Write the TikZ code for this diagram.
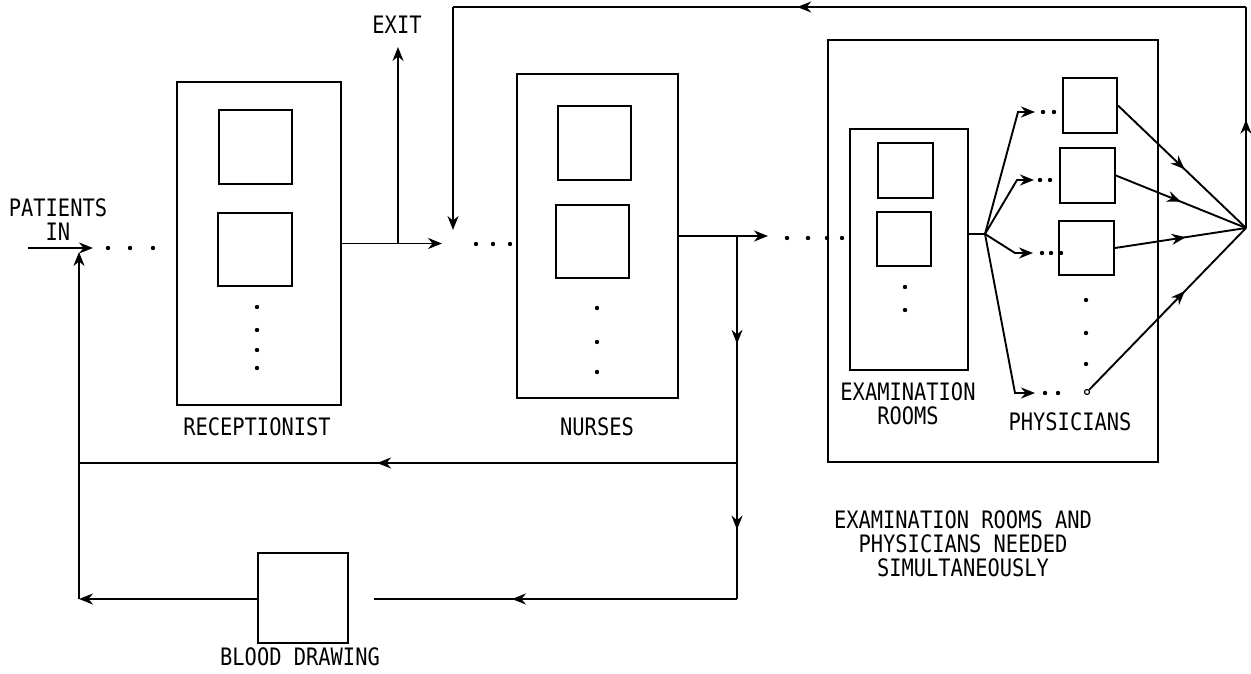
\documentclass[tikz,border=0pt]{standalone}
\usepackage{fontspec}
\newfontfamily\lp[FakeStretch=0.85]{DejaVu Sans Mono}
\usetikzlibrary{arrows.meta,decorations.markings}
\begin{document}
\begin{tikzpicture}[x=1pt,y=-1pt,line width=1.9pt,
  >={Stealth[length=14pt,width=11pt]},
  rbox/.style 2 args={draw,minimum width=#1pt,minimum height=#2pt,inner sep=0pt},
  marr/.style={postaction={decorate,decoration={markings,mark=at position #1 with {\arrow{>}}}}},
  lbl/.style={font=\lp\fontsize{24}{24}\selectfont,inner sep=0pt,align=center}]
\useasboundingbox (0,0) rectangle (1251,674);
% ---------- boxes ----------
\node[rbox={164}{323}] (rec) at (259,243.5) {};
\node[rbox={73}{74}] (rs1) at (255.5,147) {};
\node[rbox={74}{73}] (rs2) at (255,249.5) {};
\node[rbox={161}{324}] (nur) at (597.5,236) {};
\node[rbox={73}{74}] (ns1) at (594.5,143) {};
\node[rbox={73}{73}] (ns2) at (592.5,241.5) {};
\node[rbox={330}{422}] (exb) at (993,251) {};
\node[rbox={118}{241}] (exr) at (909,249.5) {};
\node[rbox={55}{55}] (es1) at (905.5,170.5) {};
\node[rbox={54}{54}] (es2) at (904,239) {};
\node[rbox={54}{55}] (p1) at (1090,105.5) {};
\node[rbox={55}{55}] (p2) at (1087.5,175.5) {};
\node[rbox={55}{54}] (p3) at (1086.5,248) {};
\node[draw,circle,line width=1.2pt,minimum size=5pt,inner sep=0pt] (p4) at (1087,392) {};
\node[rbox={90}{90}] (bld) at (303,598) {};
% ---------- labels ----------
\node[lbl] (tin) at (58,219.5) {PATIENTS\\IN};
\node[lbl] (texit) at (397,25) {EXIT};
\node[lbl] (trec) at (257,427) {RECEPTIONIST};
\node[lbl] (tnur) at (597,427) {NURSES};
\node[lbl] (tbld) at (300,657) {BLOOD DRAWING};
\node[lbl] (texr) at (908,404) {EXAMINATION\\ROOMS};
\node[lbl] (tphy) at (1070,422) {PHYSICIANS};
\node[lbl] (tnote) at (963,544) {EXAMINATION ROOMS AND\\PHYSICIANS NEEDED\\ SIMULTANEOUSLY};
% ---------- coordinates ----------
\coordinate (pin) at (28,248);
\coordinate (pie) at (93,248);
\coordinate (lv) at (79,252);
\coordinate (q1) at (442,243.5);
\coordinate (xj) at (398,243.5);
\coordinate (xt) at (398,47);
\coordinate (q2) at (768,236);
\coordinate (nj) at (737,236);
\coordinate (nm) at (737,463);
\coordinate (nb) at (737,599);
\coordinate (lm) at (79,463);
\coordinate (lb) at (79,599);
\coordinate (bs) at (374,599);
\coordinate (jn) at (985,234);
\coordinate (b1) at (1018,112);
\coordinate (b2) at (1017,180);
\coordinate (b3) at (1015,253);
\coordinate (b4) at (1015,393);
\coordinate (a1) at (1035,112);
\coordinate (a2) at (1034,180);
\coordinate (a3) at (1033,253);
\coordinate (a4) at (1035,393);
\coordinate (cv) at (1246,228);
\coordinate (tr) at (1246,7);
\coordinate (tl) at (453,7);
\coordinate (fb) at (453,230);
% ---------- connectors ----------
\draw[->] (pin) -- (pie);
\draw[->] (lb) -- (lv);
\draw[->] (rec.east) -- (q1);
\draw[->] (xj) -- (xt);
\draw[->] (nur.east) -- (q2);
\draw[marr=0.475] (nj) -- (nm);
\draw[marr=0.49] (nm) -- (nb);
\draw[marr=0.547] (nm) -- (lm);
\draw[marr=0.62] (nb) -- (bs);
\draw[->] (bld.west |- lb) -- (lb);
\draw (exr.east |- jn) -- (jn);
\draw[->] (jn) -- (b1) -- (a1);
\draw[->] (jn) -- (b2) -- (a2);
\draw[->] (jn) -- (b3) -- (a3);
\draw[->] (jn) -- (b4) -- (a4);
\draw[marr=0.52] (p1.east) -- (cv);
\draw[marr=0.5] (p2.east) -- (cv);
\draw[marr=0.54] (p3.east) -- (cv);
\draw[marr=0.61] (p4) -- (cv);
\draw[marr=0.49] (cv) -- (tr);
\draw[marr=0.566] (tr) -- (tl);
\draw[->] (tl) -- (fb);
% ---------- queue dots ----------
\foreach \x in {108,130,153} \fill (\x,248) circle (2.2pt);
\foreach \x in {476,493,510} \fill (\x,244) circle (2.2pt);
\foreach \x in {787,808,827,842} \fill (\x,238) circle (2.2pt);
\foreach \y in {307,330,350,368} \fill (257,\y) circle (2.2pt);
\foreach \y in {308,342,372} \fill (597,\y) circle (2.2pt);
\foreach \y in {287,310} \fill (905,\y) circle (2.2pt);
\foreach \y in {300,333,364} \fill (1086,\y) circle (2.2pt);
\foreach \x in {1043,1054} \fill (\x,112) circle (2.2pt);
\foreach \x in {1040,1050} \fill (\x,180) circle (2.2pt);
\foreach \x in {1042,1051,1061} \fill (\x,253) circle (2.2pt);
\foreach \x in {1045,1058} \fill (\x,393) circle (2.2pt);
\end{tikzpicture}
\end{document}
